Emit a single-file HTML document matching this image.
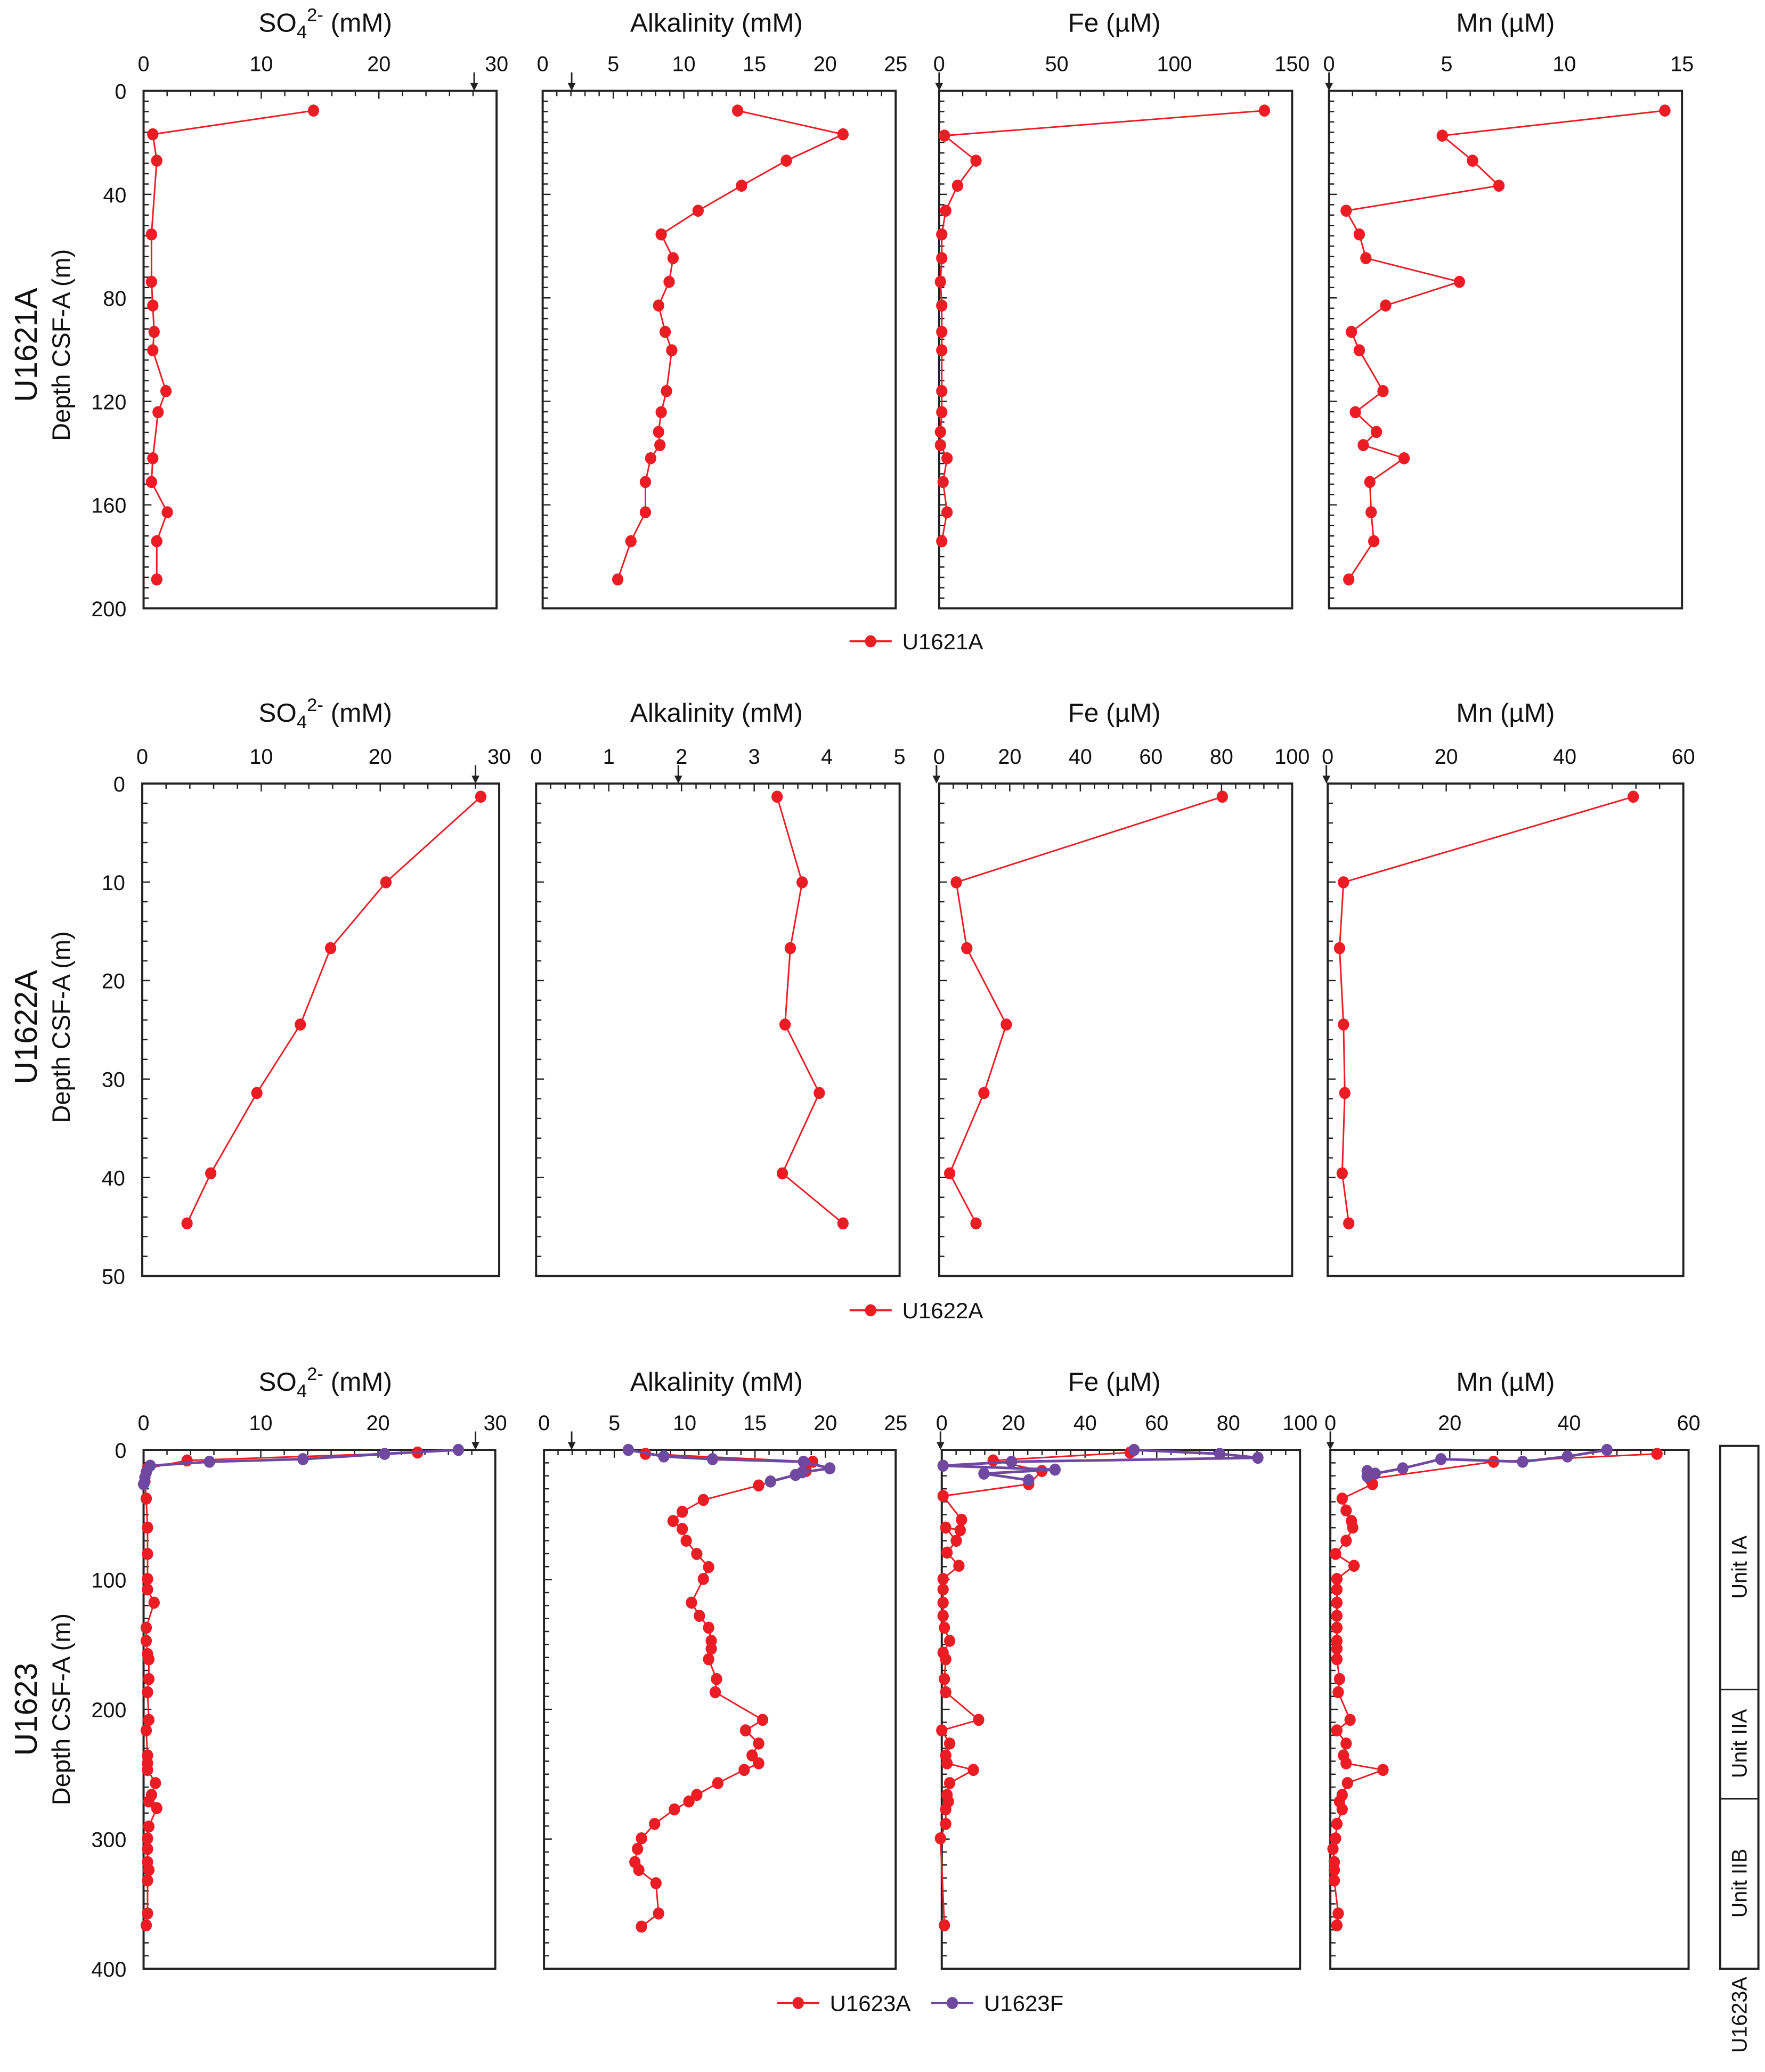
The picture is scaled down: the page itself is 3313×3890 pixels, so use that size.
<!DOCTYPE html>
<html><head><meta charset="utf-8"><style>
html,body{margin:0;padding:0;background:#fff}
svg{display:block}
text{font-family:"Liberation Sans",sans-serif;fill:#111}
</style></head><body>
<svg id="s" width="3313" height="3890" viewBox="0 0 1340 1573.4" xmlns="http://www.w3.org/2000/svg"></svg>
<script>
const s=document.getElementById('s');let h='';
const R='#ec1c24',P='#7048a0';
function box(x0,x1,y0,y1,xt,yt,first,arrowX){
 h+=`<rect x="${x0}" y="${y0}" width="${x1-x0}" height="${y1-y0}" fill="none" stroke="#222" stroke-width="1.6"/>`;
 const [xmin,xmax,xmaj,xmin_]=xt;
 for(let v=xmin;v<=xmax+1e-9;v+=xmin_){const x=x0+(v-xmin)/(xmax-xmin)*(x1-x0);
  const maj=Math.abs(v/xmaj-Math.round(v/xmaj))<1e-6;
  h+=`<line x1="${x}" x2="${x}" y1="${y0}" y2="${y0+(maj?6:4)}" stroke="#222" stroke-width="1"/>`;
  if(maj)h+=`<text x="${x}" y="${y0-15}" font-size="16" text-anchor="middle">${+v.toFixed(2)}</text>`;}
 const [ymax,ymaj,ymn]=yt;
 for(let v=0;v<=ymax+1e-9;v+=ymn){const y=y0+v/ymax*(y1-y0);
  const maj=Math.abs(v/ymaj-Math.round(v/ymaj))<1e-6;
  h+=`<line x1="${x0}" x2="${x0+(maj?6:4)}" y1="${y}" y2="${y}" stroke="#222" stroke-width="1"/>`;
  if(first&&maj)h+=`<text x="${x0-13}" y="${y+6}" font-size="16" text-anchor="end">${v}</text>`;}
 h+=`<line x1="${arrowX}" x2="${arrowX}" y1="${y0-14}" y2="${y0-4}" stroke="#222" stroke-width="1.2"/><polygon points="${arrowX-3},${y0-6} ${arrowX+3},${y0-6} ${arrowX},${y0}" fill="#222"/>`;
}
function ser(pts,c,w){h+=`<polyline points="${pts.map(p=>p.join(',')).join(' ')}" fill="none" stroke="${c}" stroke-width="${w}"/>`;
 pts.forEach(p=>h+=`<ellipse cx="${p[0]}" cy="${p[1]}" rx="4.3" ry="4.6" fill="${c}"/>`);}
function titles(y){
 h+=`<text x="247" y="${y}" font-size="20" text-anchor="middle">SO<tspan font-size="14" dy="5">4</tspan><tspan font-size="14" dy="-13">2-</tspan><tspan dy="8"> (mM)</tspan></text>`;
 h+=`<text x="544" y="${y}" font-size="20" text-anchor="middle">Alkalinity (mM)</text>`;
 h+=`<text x="846" y="${y}" font-size="20" text-anchor="middle">Fe (µM)</text>`;
 h+=`<text x="1143" y="${y}" font-size="20" text-anchor="middle">Mn (µM)</text>`;}
function rowlab(name,cy){h+=`<text transform="translate(28,${cy}) rotate(-90)" font-size="24" text-anchor="middle">${name}</text><text transform="translate(53,${cy}) rotate(-90)" font-size="19" text-anchor="middle">Depth CSF-A (m)</text>`;}
function leg(x,y,c,t){h+=`<line x1="${x}" x2="${x+32}" y1="${y}" y2="${y}" stroke="${c}" stroke-width="1.5"/><ellipse cx="${x+16}" cy="${y}" rx="4.3" ry="4.6" fill="${c}"/><text x="${x+40}" y="${y+6}" font-size="17">${t}</text>`;}
titles(24);rowlab('U1621A',262);
box(109,377,69,462,[0,30,10,2],[200,40,4],true,360);
box(412,680,69,462,[0,25,5,1],[200,40,4],false,434);
box(713,981,69,462,[0,150,50,10],[200,40,4],false,713);
box(1009,1277,69,462,[0,15,5,1],[200,40,4],false,1009);
ser([[238,84],[116,102],[119,122],[115,178],[115,214],[116,232],[117,252],[116,266],[126,297],[120,313],[116,348],[115,366],[127,389],[119,411],[119,440]],R,1.2);
ser([[560,84],[640,102],[597,122],[563,141],[530,160],[502,178],[511,196],[508,214],[500,232],[505,252],[510,266],[506,297],[502,313],[500,328],[501,338],[494,348],[490,366],[490,389],[479,411],[469,440]],R,1.2);
ser([[960,84],[717,103],[741,122],[727,141],[718,160],[715,178],[715,196],[714,214],[715,232],[715,252],[715,266],[715,297],[715,313],[714,328],[714,338],[719,348],[716,366],[719,389],[715,411]],R,1.2);
ser([[1264,84],[1095,103],[1118,122],[1138,141],[1022,160],[1032,178],[1037,196],[1108,214],[1052,232],[1026,252],[1032,266],[1050,297],[1029,313],[1045,328],[1035,338],[1066,348],[1040,366],[1041,389],[1043,411],[1024,440]],R,1.2);
leg(645,487,R,'U1621A');
titles(548);rowlab('U1622A',780);
box(108,379,595,969,[0,30,10,2],[50,10,2],true,361);
box(407,683,595,969,[0,5,1,0.2],[50,10,2],false,515);
box(713,981,595,969,[0,100,20,4],[50,10,2],false,711);
box(1008,1278,595,969,[0,60,20,4],[50,10,2],false,1007);
ser([[365,605],[293,670],[251,720],[228,778],[195,830],[160,891],[142,929]],R,1.2);
ser([[590,605],[609,670],[600,720],[596,778],[622,830],[594,891],[640,929]],R,1.2);
ser([[928,605],[726,670],[734,720],[764,778],[747,830],[721,891],[741,929]],R,1.2);
ser([[1240,605],[1020,670],[1017,720],[1020,778],[1021,830],[1019,891],[1024,929]],R,1.2);
leg(645,995,R,'U1622A');
titles(1056);rowlab('U1623',1298);
box(109,376,1101,1495,[0,30,10,2],[400,100,10],true,361);
box(413,680,1101,1495,[0,25,5,1],[400,100,10],false,434);
box(715,987,1101,1495,[0,100,20,4],[400,100,10],false,714);
box(1010,1282,1101,1495,[0,60,20,4],[400,100,10],false,1010);
ser([[317,1103],[142,1109],[112,1115],[110,1125],[111,1138],[112,1160],[112,1180],[112,1199],[112,1207],[117,1217],[111,1236],[111,1246],[112,1256],[113,1260],[113,1275],[112,1285],[113,1306],[111,1314],[112,1333],[112,1339],[112,1344],[118,1354],[115,1363],[113,1368],[119,1373],[113,1387],[112,1396],[112,1404],[112,1414],[113,1420],[112,1428],[112,1453],[111,1462]],R,1.2);
ser([[348,1101],[292,1104],[230,1108],[159,1110],[114,1113],[111,1118],[110,1122],[109,1127]],P,2);
ser([[490,1104],[617,1110],[612,1117],[576,1128],[534,1139],[518,1148],[511,1155],[518,1161],[521,1170],[529,1180],[538,1190],[534,1199],[525,1217],[531,1227],[538,1236],[540,1246],[540,1252],[538,1260],[544,1275],[543,1285],[579,1306],[566,1314],[576,1324],[571,1333],[576,1339],[565,1344],[545,1354],[529,1363],[523,1368],[512,1374],[497,1385],[487,1396],[484,1404],[482,1414],[485,1420],[498,1430],[500,1453],[487,1463]],R,1.2);
ser([[477,1101],[504,1106],[541,1108],[610,1110],[630,1115],[609,1118],[604,1120],[585,1125]],P,2);
ser([[858,1103],[754,1109],[791,1117],[781,1127],[716,1136],[730,1154],[729,1162],[718,1160],[726,1170],[719,1179],[728,1189],[716,1199],[716,1207],[716,1217],[716,1227],[717,1236],[721,1246],[716,1255],[718,1260],[717,1275],[718,1285],[743,1306],[715,1314],[721,1324],[718,1333],[719,1339],[739,1344],[721,1354],[719,1363],[720,1368],[718,1374],[718,1385],[714,1396],[717,1462]],R,1.2);
ser([[861,1101],[926,1104],[955,1107],[768,1110],[716,1113],[801,1116],[747,1119],[781,1124]],P,2);
ser([[1258,1104],[1134,1110],[1040,1123],[1042,1127],[1019,1138],[1022,1147],[1026,1155],[1027,1160],[1022,1170],[1014,1180],[1028,1189],[1015,1199],[1015,1207],[1015,1217],[1015,1227],[1015,1236],[1015,1246],[1015,1252],[1015,1260],[1017,1275],[1016,1285],[1025,1306],[1015,1314],[1022,1324],[1020,1333],[1022,1339],[1050,1344],[1023,1354],[1019,1363],[1017,1368],[1019,1374],[1015,1385],[1014,1396],[1012,1404],[1013,1414],[1013,1420],[1013,1428],[1016,1453],[1015,1462]],R,1.2);
ser([[1220,1101],[1190,1106],[1156,1110],[1094,1108],[1065,1115],[1044,1119],[1038,1117],[1038,1121]],P,2);
leg(590,1521,R,'U1623A');leg(707,1521,P,'U1623F');
h+=`<rect x="1306" y="1098" width="29" height="397" fill="none" stroke="#222" stroke-width="1.6"/>`;
h+=`<line x1="1306" x2="1335" y1="1283" y2="1283" stroke="#222"/><line x1="1306" x2="1335" y1="1366" y2="1366" stroke="#222"/>`;
[['Unit IA',1190],['Unit IIA',1324],['Unit IIB',1430],['U1623A',1530]].forEach(([t,y])=>h+=`<text transform="translate(1326,${y}) rotate(-90)" font-size="16" text-anchor="middle">${t}</text>`);
s.innerHTML=h;
</script>
</body></html>
